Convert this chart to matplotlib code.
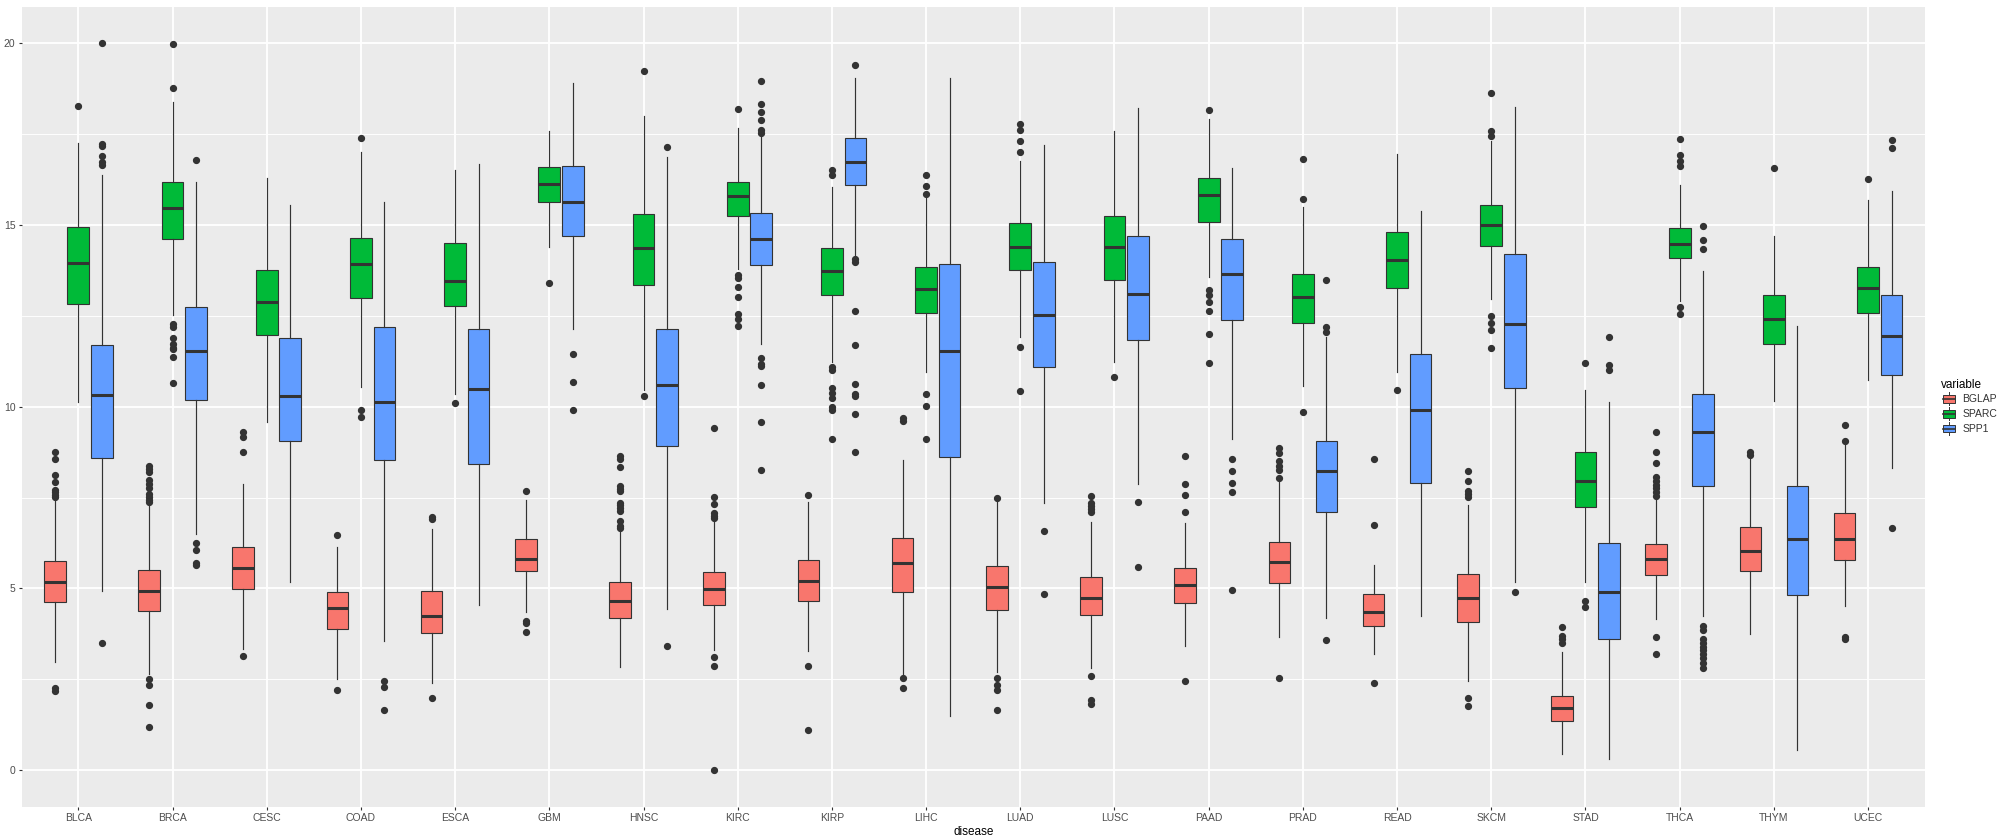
import matplotlib
matplotlib.use("Agg")
import matplotlib.pyplot as plt
from matplotlib.patches import Rectangle, Patch
from matplotlib.lines import Line2D
from matplotlib.legend_handler import HandlerBase
from matplotlib.ticker import MultipleLocator

plt.rcParams['font.family'] = ['Liberation Sans', 'DejaVu Sans']

diseases = ["BLCA", "BRCA", "CESC", "COAD", "ESCA", "GBM", "HNSC", "KIRC", "KIRP", "LIHC",
            "LUAD", "LUSC", "PAAD", "PRAD", "READ", "SKCM", "STAD", "THCA", "THYM", "UCEC"]
genes = ["BGLAP", "SPARC", "SPP1"]
gene_colors = ["#F8766D", "#00BA38", "#619CFF"]

# (lower whisker, q1, median, q3, upper whisker)
bglap_box = [(2.98, 4.63, 5.19, 5.76, 7.45), (2.65, 4.37, 4.94, 5.52, 7.30), (3.33, 4.98, 5.56, 6.15, 7.86),
             (2.50, 3.88, 4.45, 4.90, 6.15), (2.40, 3.78, 4.25, 4.92, 6.63), (4.36, 5.48, 5.82, 6.35, 7.43),
             (2.85, 4.19, 4.66, 5.19, 6.60), (3.30, 4.54, 4.98, 5.46, 6.82), (3.27, 4.65, 5.21, 5.79, 7.39),
             (2.65, 4.89, 5.70, 6.38, 8.52), (2.70, 4.41, 5.05, 5.63, 7.37), (2.80, 4.27, 4.73, 5.31, 6.83),
             (3.41, 4.59, 5.10, 5.57, 6.79), (3.66, 5.16, 5.72, 6.29, 7.95), (3.20, 3.97, 4.35, 4.84, 5.64),
             (2.45, 4.08, 4.74, 5.40, 7.29), (0.45, 1.35, 1.72, 2.05, 3.24), (4.15, 5.37, 5.81, 6.21, 7.42),
             (3.76, 5.48, 6.02, 6.70, 8.62), (4.53, 5.79, 6.36, 7.07, 8.95)]
bglap_out = [[8.74, 8.55, 8.11, 7.93, 7.72, 7.65, 7.58, 7.52, 2.25, 2.18],
             [8.37, 8.28, 8.19, 7.98, 7.87, 7.76, 7.60, 7.52, 7.44, 7.37, 2.50, 2.35, 1.80, 1.20],
             [9.31, 9.17, 8.76, 3.14],
             [6.47, 2.21],
             [6.96, 6.90, 2.00],
             [7.68, 4.10, 4.05, 3.80],
             [8.65, 8.56, 8.34, 7.81, 7.74, 7.68, 7.35, 7.29, 7.21, 7.13, 6.86, 6.72, 6.67],
             [9.41, 7.51, 7.31, 7.07, 6.99, 6.93, 3.12, 2.88, 0.0],
             [7.58, 2.88, 1.12],
             [9.70, 9.61, 2.55, 2.25],
             [7.50, 2.53, 2.35, 2.21, 1.65],
             [7.53, 7.34, 7.26, 7.19, 7.11, 2.60, 1.93, 1.83],
             [8.64, 7.87, 7.58, 7.10, 2.45],
             [8.87, 8.72, 8.50, 8.38, 8.25, 8.05, 2.55],
             [8.56, 6.74, 2.39],
             [8.22, 7.96, 7.69, 7.61, 7.52, 2.00, 1.76],
             [3.94, 3.70, 3.60, 3.50],
             [9.31, 8.74, 8.46, 8.07, 7.95, 7.85, 7.75, 7.65, 7.55, 3.67, 3.21],
             [8.74, 8.68],
             [9.49, 9.05, 3.67, 3.60]]

sparc_box = [(10.13, 12.83, 13.96, 14.94, 17.25), (12.53, 14.60, 15.45, 16.19, 18.37), (9.57, 11.96, 12.87, 13.75, 16.30),
             (10.53, 12.99, 13.92, 14.63, 17.00), (10.36, 12.77, 13.45, 14.50, 16.50), (14.38, 15.64, 16.13, 16.60, 17.59),
             (10.45, 13.34, 14.35, 15.30, 18.00), (13.78, 15.23, 15.78, 16.19, 17.65), (11.23, 13.06, 13.72, 14.37, 16.05),
             (10.95, 12.58, 13.24, 13.84, 15.75), (11.92, 13.75, 14.39, 15.06, 16.76), (11.23, 13.47, 14.40, 15.24, 17.59),
             (13.57, 15.09, 15.83, 16.30, 17.90), (10.58, 12.31, 13.01, 13.65, 15.48), (10.96, 13.26, 14.04, 14.80, 16.96),
             (12.97, 14.41, 14.99, 15.55, 17.30), (5.18, 7.23, 7.96, 8.76, 10.47), (12.90, 14.08, 14.47, 14.90, 16.09),
             (10.15, 11.73, 12.42, 13.06, 14.70), (10.73, 12.58, 13.25, 13.85, 15.68)]
sparc_out = [[18.26],
             [19.98, 18.76, 12.26, 12.20, 11.89, 11.71, 11.62, 11.58, 11.37, 10.65],
             [],
             [17.38, 9.90, 9.72],
             [10.10],
             [13.40],
             [19.24, 10.30],
             [18.18, 13.62, 13.55, 13.28, 13.02, 12.56, 12.42, 12.21],
             [16.50, 16.38, 11.09, 11.00, 10.51, 10.38, 10.24, 9.99, 9.90, 9.10],
             [16.36, 16.08, 15.85, 10.34, 10.01, 9.12],
             [17.78, 17.62, 17.31, 16.99, 11.63, 10.44],
             [10.82],
             [18.15, 13.20, 13.08, 12.87, 12.64, 12.00, 11.19],
             [16.82, 15.72, 9.84],
             [10.45],
             [18.62, 17.57, 17.45, 12.48, 12.29, 12.10, 11.62],
             [11.19, 4.65, 4.48],
             [17.36, 16.91, 16.75, 16.62, 12.73, 12.56],
             [16.56],
             [16.27]]

spp1_box = [(4.94, 8.59, 10.32, 11.69, 16.38), (6.50, 10.17, 11.52, 12.73, 16.19), (5.17, 9.05, 10.30, 11.88, 15.54),
            (3.55, 8.54, 10.12, 12.20, 15.64), (4.54, 8.42, 10.48, 12.14, 16.67), (12.13, 14.70, 15.62, 16.63, 18.90),
            (4.44, 8.91, 10.60, 12.14, 16.87), (11.73, 13.89, 14.62, 15.32, 17.49), (14.13, 16.10, 16.72, 17.38, 19.05),
            (1.50, 8.61, 11.52, 13.92, 19.03), (7.35, 11.10, 12.53, 13.99, 17.20), (7.87, 11.82, 13.11, 14.69, 18.20),
            (9.11, 12.37, 13.66, 14.61, 16.55), (4.19, 7.11, 8.22, 9.05, 11.92), (4.25, 7.89, 9.92, 11.46, 15.38),
            (5.17, 10.51, 12.27, 14.19, 18.24), (0.32, 3.62, 4.89, 6.25, 10.13), (4.24, 7.83, 9.30, 10.36, 13.72),
            (0.56, 4.81, 6.35, 7.82, 12.23), (8.30, 10.86, 11.95, 13.08, 15.92)]
spp1_out = [[20.00, 17.23, 17.16, 16.88, 16.74, 16.64, 3.50],
            [16.79, 6.25, 6.07, 5.71, 5.65],
            [],
            [2.45, 2.30, 1.65],
            [],
            [11.44, 10.67, 9.92],
            [17.15, 3.41],
            [18.96, 18.32, 18.11, 17.89, 17.60, 17.53, 11.34, 11.16, 11.11, 10.59, 9.58, 8.26],
            [19.40, 14.07, 13.99, 12.62, 11.69, 10.63, 10.36, 10.30, 9.81, 8.74],
            [],
            [6.57, 4.84],
            [7.38, 5.59],
            [8.55, 8.23, 7.89, 7.66, 4.95],
            [13.48, 12.18, 12.05, 3.59],
            [],
            [4.90],
            [11.92, 11.14, 11.00],
            [14.96, 14.58, 14.33, 3.96, 3.85, 3.60, 3.50, 3.40, 3.30, 3.20, 3.08, 2.95, 2.81],
            [],
            [17.33, 17.12, 6.65]]

edge = "#333333"

W, H = 2001, 835
fig = plt.figure(figsize=(W / 100, H / 100), dpi=100)
ax = fig.add_axes([21.8 / W, 1 - 806.6 / H, (1924.6 - 21.8) / W, 800 / H])
ax.set_facecolor("#EBEBEB")
for s in ax.spines.values():
    s.set_visible(False)

for g, (boxes, outs, col) in enumerate(zip([bglap_box, sparc_box, spp1_box],
                                           [bglap_out, sparc_out, spp1_out], gene_colors)):
    stats = []
    for (lo, q1, med, q3, hi), fl in zip(boxes, outs):
        stats.append(dict(whislo=lo, q1=q1, med=med, q3=q3, whishi=hi, fliers=fl))
    pos = [i + (g - 1) * 0.25 for i in range(len(diseases))]
    ax.bxp(stats, positions=pos, widths=0.23, patch_artist=True, showcaps=False,
           boxprops=dict(facecolor=col, edgecolor=edge, linewidth=0.8),
           medianprops=dict(color=edge, linewidth=2.2, solid_capstyle='butt'),
           whiskerprops=dict(color=edge, linewidth=0.85),
           flierprops=dict(marker='o', markerfacecolor=edge, markeredgecolor=edge,
                           markersize=4.2, linestyle='none'),
           zorder=3)

ax.set_xlim(-0.6, len(diseases) - 0.4)
ax.set_ylim(-1, 21)
ax.set_xticks(range(len(diseases)))
ax.set_xticklabels(diseases)
ax.yaxis.set_major_locator(MultipleLocator(5))
ax.yaxis.set_minor_locator(MultipleLocator(2.5))
ax.grid(which='major', color='white', linewidth=1.3)
ax.grid(which='minor', axis='y', color='white', linewidth=0.65)
ax.set_axisbelow(True)
ax.tick_params(which='major', length=2.5, width=0.8, color=edge, labelsize=7.5,
               labelcolor='#4D4D4D', pad=2)
ax.tick_params(which='minor', length=0)
ax.set_xlabel("disease", fontsize=8.5, labelpad=2)


class BoxKey(HandlerBase):
    def create_artists(self, legend, orig_handle, xdescent, ydescent, width, height, fontsize, trans):
        x0, y0 = -xdescent, -ydescent
        cx = x0 + width / 2
        bl, bb, bw, bh = x0 + 0.12 * width, y0 + 0.22 * height, 0.76 * width, 0.56 * height
        rect = Rectangle((bl, bb), bw, bh, facecolor=orig_handle.get_facecolor(),
                         edgecolor=edge, linewidth=0.7, transform=trans)
        med = Line2D([bl, bl + bw], [bb + bh / 2] * 2, color=edge, linewidth=1.2, transform=trans)
        w1 = Line2D([cx, cx], [y0 + 0.02 * height, bb], color=edge, linewidth=0.7, transform=trans)
        w2 = Line2D([cx, cx], [bb + bh, y0 + 0.98 * height], color=edge, linewidth=0.7, transform=trans)
        return [w1, w2, rect, med]


handles = [Patch(facecolor=c) for c in gene_colors]
leg = fig.legend(handles, genes, title="variable", loc='center left',
                 bbox_to_anchor=(1932 / W, 1 - 407 / H), frameon=False,
                 handler_map={Patch: BoxKey()}, fontsize=7.5, title_fontsize=8.5,
                 handlelength=1.5, handleheight=1.6, handletextpad=0.5, labelspacing=0.15,
                 alignment='left')
for t in leg.get_texts():
    t.set_color('#333333')

fig.savefig("out.png", dpi=100)
